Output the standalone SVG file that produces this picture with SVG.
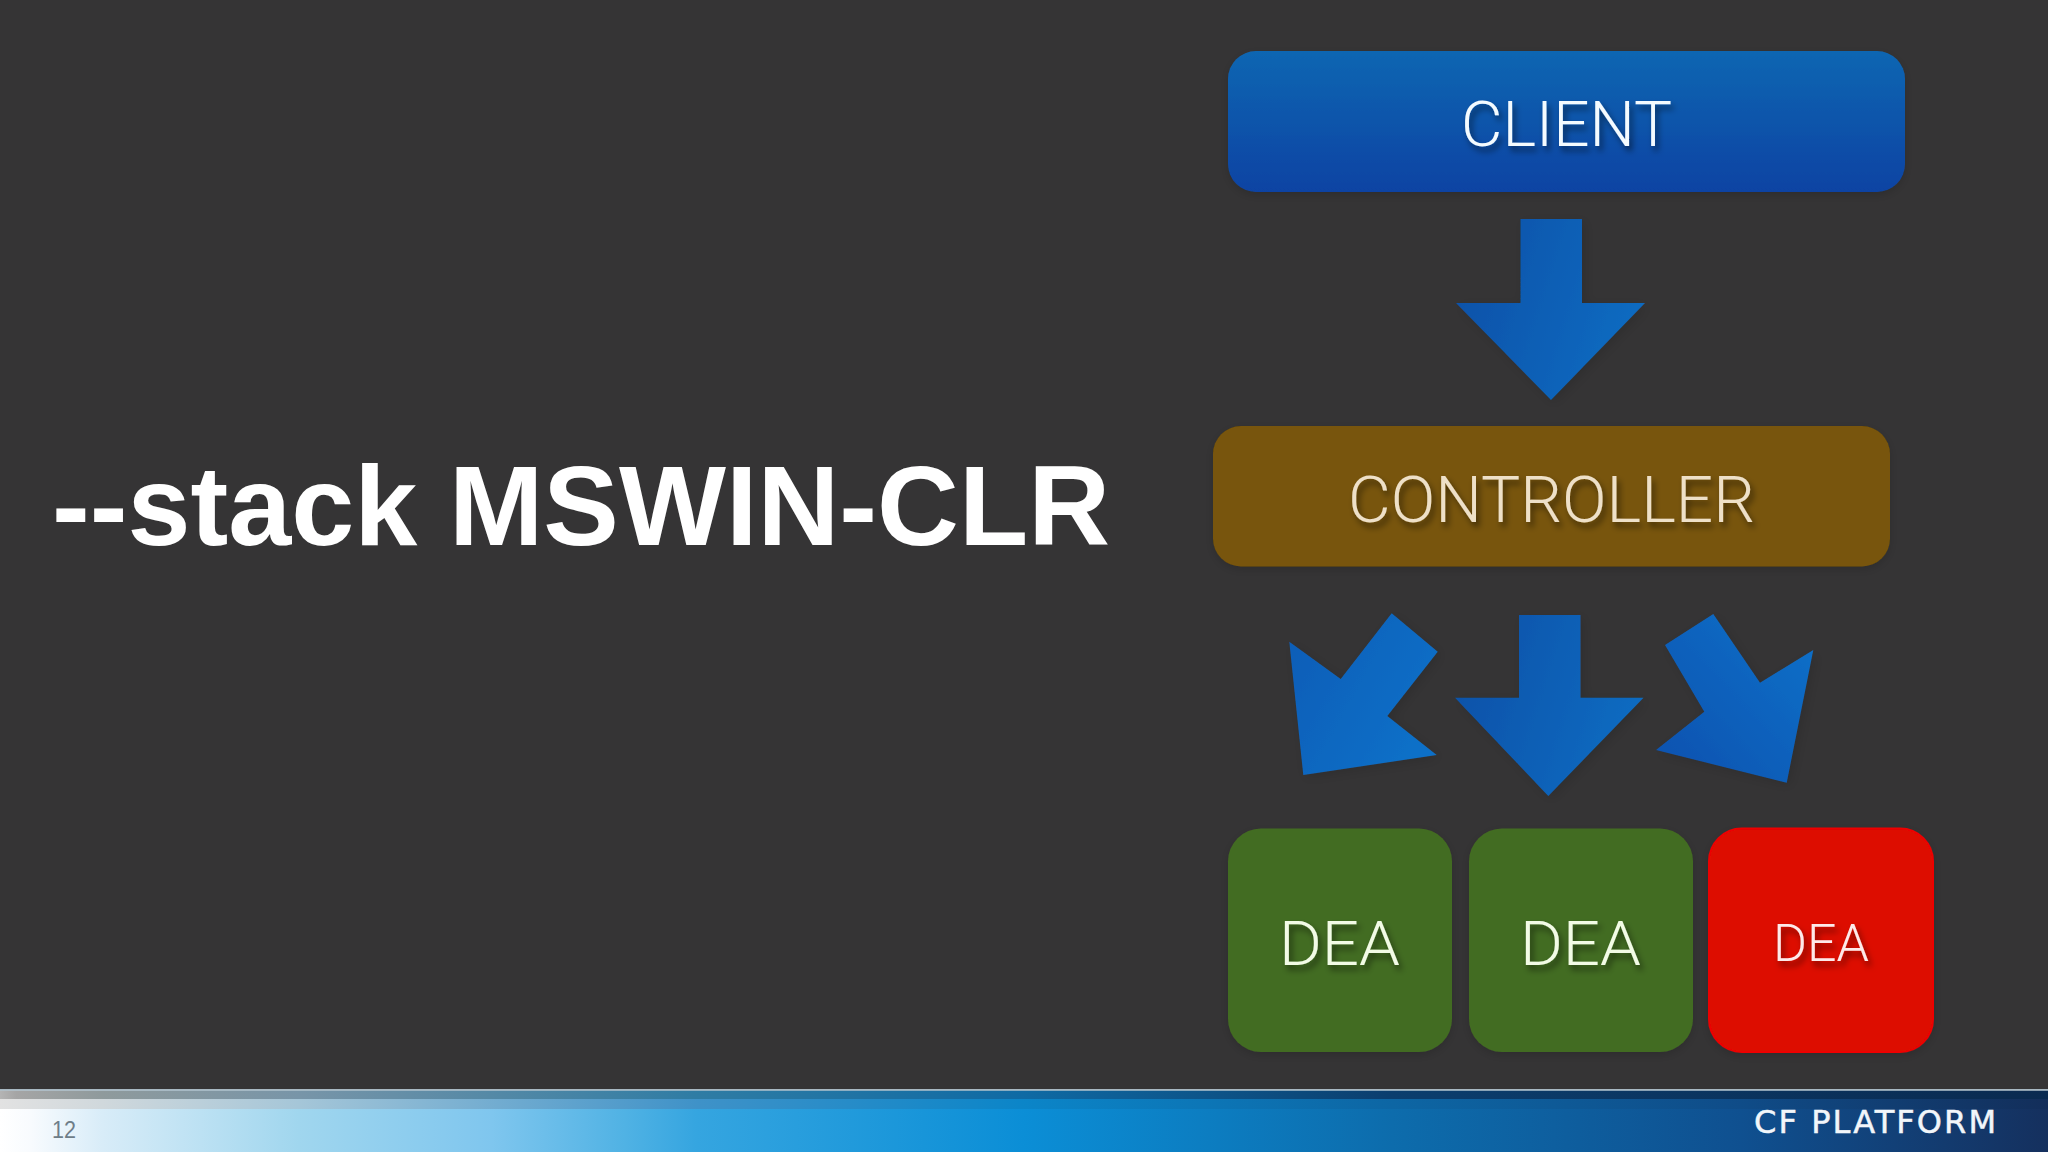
<svg xmlns="http://www.w3.org/2000/svg" width="2048" height="1152" viewBox="0 0 2048 1152">
<style>
.lbl{font-family:Roboto,"Liberation Sans",sans-serif;font-weight:300;filter:url(#ts)}
.arrow{filter:url(#as)}
</style>
<defs>
<linearGradient id="cg" x1="0" y1="0" x2="0" y2="1"><stop offset="0" stop-color="#0f66b2"/><stop offset="1" stop-color="#0b43a3"/></linearGradient>
<linearGradient id="a1" x1="0" y1="0" x2="1" y2="0.3"><stop offset="0" stop-color="#0c4fa6"/><stop offset="1" stop-color="#0e6ac0"/></linearGradient>
<linearGradient id="a2" x1="0" y1="0" x2="1" y2="0.6"><stop offset="0" stop-color="#0e5cb6"/><stop offset="1" stop-color="#1070c8"/></linearGradient>
<linearGradient id="a3" x1="0" y1="1" x2="1" y2="0"><stop offset="0" stop-color="#0c50ae"/><stop offset="1" stop-color="#1072ca"/></linearGradient>
<linearGradient id="f1" x1="0" y1="0" x2="1" y2="0"><stop offset="0" stop-color="#ffffff"/><stop offset="0.015" stop-color="#f8fbfe"/><stop offset="0.05" stop-color="#d8ecf8"/><stop offset="0.146" stop-color="#a0d6ee"/><stop offset="0.24" stop-color="#7fc6ee"/><stop offset="0.305" stop-color="#50b2e4"/><stop offset="0.34" stop-color="#35a5e0"/><stop offset="0.5" stop-color="#0b8ed6"/><stop offset="0.68" stop-color="#0d6cac"/><stop offset="0.85" stop-color="#0f5090"/><stop offset="1" stop-color="#15305e"/></linearGradient>
<linearGradient id="f2" x1="0" y1="0" x2="1" y2="0"><stop offset="0" stop-color="#b4b4b4"/><stop offset="0.008" stop-color="#a5a5a5"/><stop offset="0.05" stop-color="#8f9a9c"/><stop offset="0.146" stop-color="#7895a8"/><stop offset="0.34" stop-color="#2f7ca4"/><stop offset="0.5" stop-color="#0f6aa4"/><stop offset="0.68" stop-color="#0b3e6e"/><stop offset="1" stop-color="#0a2a50"/></linearGradient>
<linearGradient id="f3" x1="0" y1="0" x2="1" y2="0"><stop offset="0" stop-color="#e2e2e2"/><stop offset="0.05" stop-color="#d0d8dc"/><stop offset="0.146" stop-color="#a5c6d8"/><stop offset="0.34" stop-color="#3f92c8"/><stop offset="0.5" stop-color="#0b85c8"/><stop offset="0.68" stop-color="#0d66a4"/><stop offset="0.85" stop-color="#0f4c88"/><stop offset="1" stop-color="#132e5a"/></linearGradient>
<filter id="ns" x="-10%" y="-15%" width="120%" height="130%"><feDropShadow dx="0" dy="3" stdDeviation="5" flood-color="#000" flood-opacity="0.15"/></filter>
<filter id="as" x="-15%" y="-15%" width="130%" height="130%"><feDropShadow dx="3" dy="3" stdDeviation="6" flood-color="#000" flood-opacity="0.12"/></filter>
<filter id="ts" x="-10%" y="-20%" width="120%" height="150%"><feDropShadow dx="3" dy="5" stdDeviation="3" flood-color="#000" flood-opacity="0.5"/></filter>
</defs>
<rect width="2048" height="1152" fill="#353435"/>
<text x="52" y="545" font-family="'Liberation Sans',Arial,sans-serif" font-weight="700" font-size="113" fill="#ffffff" textLength="1058" lengthAdjust="spacingAndGlyphs">--stack MSWIN-CLR</text>
<g id="connectors">
<polygon class="arrow" fill="url(#a1)" points="1520.5,219 1582,219 1582,303 1645,303 1551,400 1456,303 1520.5,303"/>
<polygon class="arrow" fill="url(#a2)" points="1391.7,613.3 1437.7,651.7 1387.3,716 1436.7,755 1303.3,775 1289.3,641.7 1340.7,679"/>
<polygon class="arrow" fill="url(#a1)" points="1519,615 1580.5,615 1580.5,697.7 1643.5,697.7 1548.3,796 1455,697.7 1519,697.7"/>
<polygon class="arrow" fill="url(#a3)" points="1713.3,614 1665,645 1704.3,711.7 1656,750 1786.7,782.7 1813.3,650 1760,682.7"/>
</g>
<g id="client">
<rect x="1228" y="51" width="677" height="141" rx="28" fill="url(#cg)" filter="url(#ns)"/>
<text class="lbl" x="1461" y="145.5" font-size="63" fill="#f4fbff" textLength="211" lengthAdjust="spacingAndGlyphs">CLIENT</text>
</g>
<g id="controller">
<rect x="1213" y="426" width="677" height="140.5" rx="28" fill="#785408" filter="url(#ns)"/>
<text class="lbl" x="1348" y="522" font-size="64" fill="#eee0c8" textLength="407" lengthAdjust="spacingAndGlyphs">CONTROLLER</text>
</g>
<g id="dea-1">
<rect x="1228" y="828.5" width="224" height="223.5" rx="33" fill="#436c20" filter="url(#ns)"/>
<text class="lbl" x="1279" y="964.5" font-size="62" fill="#f2fbe6" textLength="121" lengthAdjust="spacingAndGlyphs">DEA</text>
</g>
<g id="dea-2">
<rect x="1469" y="828.5" width="224" height="223.5" rx="33" fill="#436c20" filter="url(#ns)"/>
<text class="lbl" x="1520" y="964.5" font-size="62" fill="#f2fbe6" textLength="121" lengthAdjust="spacingAndGlyphs">DEA</text>
</g>
<g id="dea-3">
<rect x="1709" y="828.5" width="224" height="223.5" rx="33" fill="#dd0d00" stroke="#ee0000" stroke-width="2" filter="url(#ns)"/>
<text class="lbl" x="1773" y="960.5" font-size="51" fill="#fdeaea" textLength="96" lengthAdjust="spacingAndGlyphs">DEA</text>
</g>
<g id="footer">
<rect y="1089" width="2048" height="63" fill="url(#f1)"/>
<rect y="1099" width="2048" height="10" fill="url(#f3)"/>
<rect y="1090.5" width="2048" height="8.5" fill="url(#f2)"/>
<rect y="1089" width="2048" height="1.8" fill="#a8b8c2"/>
<text x="52" y="1137.5" font-family="'Liberation Sans',Arial,sans-serif" font-size="23" fill="#6e7d88" textLength="24" lengthAdjust="spacingAndGlyphs">12</text>
<text x="1754" y="1132.5" font-family="'DejaVu Sans',sans-serif" font-size="32" fill="#f2f6fa" stroke="#f2f6fa" stroke-width="0.5" textLength="242" lengthAdjust="spacing">CF PLATFORM</text>
</g>
</svg>
